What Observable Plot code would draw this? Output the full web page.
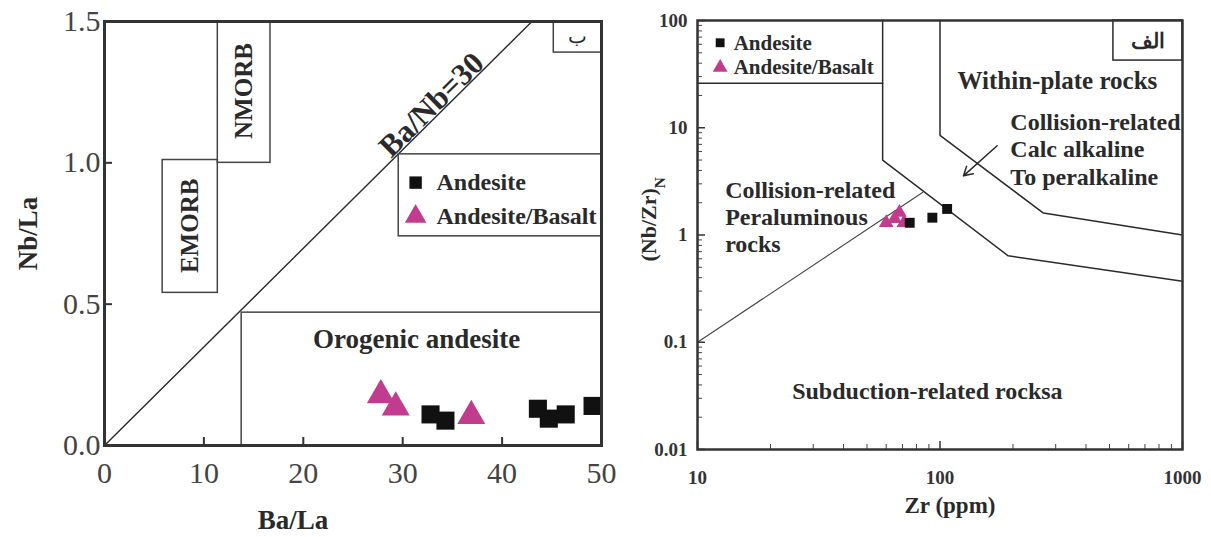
<!DOCTYPE html>
<html><head><meta charset="utf-8">
<script src="https://cdn.jsdelivr.net/npm/d3@7"></script>
<script src="https://cdn.jsdelivr.net/npm/@observablehq/plot@0.6"></script>
<style>
body{margin:0;background:#fff;}
#wrap{position:relative;width:1211px;height:537px;overflow:hidden;}
#left{position:absolute;left:0;top:0;}
#right{position:absolute;left:620px;top:0;}
</style></head><body><div id="wrap"><div id="left"></div><div id="right"></div></div>
<script>
// ---------- Left panel data (Ba/La vs Nb/La) ----------
const leftXTicks = [0, 10, 20, 30, 40, 50];
const leftYTicks = [0, 0.5, 1.0, 1.5];
const andesiteBaLa = [32.8, 34.3, 43.6, 44.7, 46.4, 49.1];
const andesiteNbLa = [0.11, 0.088, 0.13, 0.095, 0.11, 0.14];
const basaltBaLa = [27.8, 29.3, 36.9];
const basaltNbLa = [0.178, 0.135, 0.105];
const baNbLineX = [0, 43];
const baNbLineY = [0, 1.5];

// ---------- Right panel data (Zr vs (Nb/Zr)N) ----------
const rightXTicks = [10, 100, 1000];
const rightXMinor = [20, 30, 40, 50, 60, 70, 80, 90, 200, 300, 400, 500, 600, 700, 800, 900];
const rightYTicks = [0.01, 0.1, 1, 10, 100];
const rightYMinor = [0.02, 0.03, 0.04, 0.05, 0.06, 0.07, 0.08, 0.09, 0.2, 0.3, 0.4, 0.5, 0.6, 0.7, 0.8, 0.9, 2, 3, 4, 5, 6, 7, 8, 9, 20, 30, 40, 50, 60, 70, 80, 90];
const andesiteZr = [75, 93, 107];
const andesiteNbZr = [1.3, 1.45, 1.75];
const basaltZr = [60, 65, 68, 71];
const basaltNbZr = [1.3, 1.42, 1.62, 1.3];
const withinPlateZr = [100, 100, 267, 1000];
const withinPlateNbZr = [100, 8.5, 1.6, 1.0];
const collisionZr = [58, 58, 191, 1000];
const collisionNbZr = [100, 5, 0.64, 0.37];
const peralZr = [10, 85];
const peralNbZr = [0.1, 2.5];
const legendLineZr = [10, 58];
const legendLineNbZr = [26, 26];

const serif = "Liberation Serif, Times New Roman, serif";
const ink = "#2a2a2a";
const magenta = "#c23c8e";

const pts = (xs, ys) => xs.map((x, i) => ({x, y: ys[i]}));

// ---------------- LEFT ----------------
const left = Plot.plot({
  width: 620, height: 537,
  marginLeft: 104, marginRight: 19, marginTop: 21, marginBottom: 92,
  x: {domain: [0, 50]},
  y: {domain: [0, 1.5]},
  style: {fontFamily: serif, background: "white", overflow: "visible"},
  marks: [
    Plot.line(pts(baNbLineX, baNbLineY), {x: "x", y: "y", stroke: ink, strokeWidth: 1.4}),
    Plot.rect([{x1: 11.4, x2: 16.7, y1: 1.0, y2: 1.5}], {x1: "x1", x2: "x2", y1: "y1", y2: "y2", fill: "none", stroke: "#444", strokeWidth: 1.5}),
    Plot.rect([{x1: 5.85, x2: 11.4, y1: 0.54, y2: 1.01}], {x1: "x1", x2: "x2", y1: "y1", y2: "y2", fill: "none", stroke: "#444", strokeWidth: 1.5}),
    Plot.rect([{x1: 13.8, x2: 50, y1: 0, y2: 0.47}], {x1: "x1", x2: "x2", y1: "y1", y2: "y2", fill: "none", stroke: "#444", strokeWidth: 1.5}),
    Plot.rect([{x1: 29.6, x2: 50, y1: 0.74, y2: 1.03}], {x1: "x1", x2: "x2", y1: "y1", y2: "y2", fill: "white", stroke: "#444", strokeWidth: 1.5}),
    Plot.rect([{x1: 45.2, x2: 50, y1: 1.39, y2: 1.5}], {x1: "x1", x2: "x2", y1: "y1", y2: "y2", fill: "none", stroke: "#444", strokeWidth: 1.5}),
    Plot.text(["NMORB"], {x: 14.0, y: 1.254, rotate: -90, fontSize: 25, fontWeight: "bold", fill: ink}),
    Plot.text(["EMORB"], {x: 8.6, y: 0.777, rotate: -90, fontSize: 25, fontWeight: "bold", fill: ink}),
    Plot.text(["Ba/Nb=30"], {x: 32.9, y: 1.205, rotate: -44.7, fontSize: 31, fontWeight: "bold", fill: ink}),
    Plot.text(["Orogenic andesite"], {x: 31.4, y: 0.375, fontSize: 27, fontWeight: "bold", fill: ink}),
    Plot.text(["ب"], {x: 47.6, y: 1.445, fontSize: 20, fill: ink}),
    // legend
    Plot.dot([{x: 31.3, y: 0.93}], {x: "x", y: "y", symbol: "square", r: 7, fill: "#111"}),
    Plot.dot([{x: 31.3, y: 0.81}], {x: "x", y: "y", symbol: "triangle", r: 8, fill: magenta}),
    Plot.text(["Andesite"], {x: 33.4, y: 0.93, textAnchor: "start", fontSize: 24, fontWeight: "bold", fill: ink}),
    Plot.text(["Andesite/Basalt"], {x: 33.4, y: 0.81, textAnchor: "start", fontSize: 24, fontWeight: "bold", fill: ink}),
    // data
    Plot.dot(pts(basaltBaLa, basaltNbLa), {x: "x", y: "y", symbol: "triangle", r: 10.4, fill: magenta}),
    Plot.dot(pts(andesiteBaLa, andesiteNbLa), {x: "x", y: "y", symbol: "square", r: 10.2, fill: "#111"}),
    // axes: inward ticks, then labels
    Plot.axisY(leftYTicks, {tickSize: 8, dx: 8, tickFormat: () => "", stroke: "#333", strokeWidth: 2, label: null}),
    Plot.axisX(leftXTicks, {tickSize: 8, dy: -8, tickFormat: () => "", stroke: "#333", strokeWidth: 2, label: null}),
    Plot.axisY(leftYTicks, {tickSize: 0, tickPadding: 4, tickFormat: d3.format(".1f"), fontSize: 30, fill: "#444", label: null}),
    Plot.axisX(leftXTicks, {tickSize: 0, tickPadding: 28, lineAnchor: "middle", fontSize: 30, fill: "#444", label: null}),
    Plot.frame({stroke: "#333", strokeWidth: 3}),
    Plot.text(["Nb/La"], {x: 0, y: 0.75, dx: -76, rotate: -90, fontSize: 27, fontWeight: "bold", fill: ink}),
    Plot.text(["Ba/La"], {x: 25, y: 0, dx: -60, dy: 75, fontSize: 27, fontWeight: "bold", fill: ink})
  ]
});
document.getElementById("left").appendChild(left);

// ---------------- RIGHT ----------------
const right = Plot.plot({
  width: 591, height: 537,
  marginLeft: 77, marginRight: 29, marginTop: 20, marginBottom: 88,
  x: {type: "log", domain: [10, 1000]},
  y: {type: "log", domain: [0.01, 100]},
  style: {fontFamily: serif, background: "white", overflow: "visible"},
  marks: [
    Plot.line(pts(withinPlateZr, withinPlateNbZr), {x: "x", y: "y", stroke: ink, strokeWidth: 1.5}),
    Plot.line(pts(collisionZr, collisionNbZr), {x: "x", y: "y", stroke: ink, strokeWidth: 1.5}),
    Plot.line(pts(peralZr, peralNbZr), {x: "x", y: "y", stroke: "#444", strokeWidth: 1.1}),
    Plot.line(pts(legendLineZr, legendLineNbZr), {x: "x", y: "y", stroke: ink, strokeWidth: 1.5}),
    Plot.rect([{x1: 519, x2: 1000, y1: 42.3, y2: 100}], {x1: "x1", x2: "x2", y1: "y1", y2: "y2", fill: "none", stroke: ink, strokeWidth: 1.5}),
    Plot.text(["الف"], {x: 724, y: 64, fontSize: 21, fontWeight: "bold", fill: ink}),
    Plot.text(["Within-plate rocks"], {x: 305, y: 27.5, fontSize: 25, fontWeight: "bold", fill: ink}),
    Plot.text(["Collision-related\nCalc alkaline\nTo peralkaline"], {x: 195, y: 6.4, textAnchor: "start", lineHeight: 1.15, fontSize: 24, fontWeight: "bold", fill: ink}),
    Plot.text(["Collision-related\nPeraluminous\nrocks"], {x: 13.0, y: 1.5, textAnchor: "start", lineHeight: 1.12, fontSize: 24, fontWeight: "bold", fill: ink}),
    Plot.text(["Subduction-related rocksa"], {x: 88.7, y: 0.035, fontSize: 24, fontWeight: "bold", fill: ink}),
    Plot.arrow([{x1: 172, y1: 6.8, x2: 125, y2: 3.56}], {x1: "x1", y1: "y1", x2: "x2", y2: "y2", stroke: ink, strokeWidth: 1.5, headLength: 10}),
    // legend
    Plot.dot([{x: 12.4, y: 62}], {x: "x", y: "y", symbol: "square", r: 5, fill: "#111"}),
    Plot.dot([{x: 12.4, y: 36.4}], {x: "x", y: "y", symbol: "triangle", r: 5.5, fill: magenta}),
    Plot.text(["Andesite"], {x: 14.1, y: 62, textAnchor: "start", fontSize: 21, fontWeight: "bold", fill: ink}),
    Plot.text(["Andesite/Basalt"], {x: 14.1, y: 36.4, textAnchor: "start", fontSize: 21, fontWeight: "bold", fill: ink}),
    // data
    Plot.dot(pts(basaltZr, basaltNbZr), {x: "x", y: "y", symbol: "triangle", r: 5.5, fill: magenta}),
    Plot.dot(pts(andesiteZr, andesiteNbZr), {x: "x", y: "y", symbol: "square", r: 5.6, fill: "#111"}),
    // axes: inward minor + major ticks, then labels
    Plot.axisY(rightYMinor, {tickSize: 5, dx: 5, tickFormat: () => "", stroke: "#444", label: null}),
    Plot.axisX(rightXMinor, {tickSize: 5, dy: -5, tickFormat: () => "", stroke: "#444", label: null}),
    Plot.axisY(rightYTicks, {tickSize: 8, dx: 8, tickFormat: () => "", stroke: "#333", strokeWidth: 1.5, label: null}),
    Plot.axisX(rightXTicks, {tickSize: 8, dy: -8, tickFormat: () => "", stroke: "#333", strokeWidth: 1.5, label: null}),
    Plot.axisY(rightYTicks, {tickSize: 0, tickPadding: 10, tickFormat: d => String(d), fontSize: 19, fontWeight: "bold", fill: "#333", label: null}),
    Plot.axisX(rightXTicks, {tickSize: 0, tickPadding: 28, lineAnchor: "middle", tickFormat: d => String(d), fontSize: 19, fontWeight: "bold", fill: "#333", label: null}),
    Plot.frame({stroke: "#333", strokeWidth: 2.5}),
    Plot.text(["(Nb/Zr)N"], {x: 10, y: 1.4, dx: -49, rotate: -90, fontSize: 22, fontWeight: "bold", fill: ink}),
    Plot.text(["Zr (ppm)"], {x: 100, y: 0.01, dx: 10, dy: 56, fontSize: 23, fontWeight: "bold", fill: ink})
  ]
});
document.getElementById("right").appendChild(right);

// subscript N in the y label
d3.select(right).selectAll("text").filter(function() { return this.textContent === "(Nb/Zr)N"; }).each(function() {
  const t = d3.select(this);
  t.text(null);
  t.append("tspan").text("(Nb/Zr)");
  t.append("tspan").attr("baseline-shift", "sub").attr("font-size", "0.7em").text("N");
});
</script>
</body></html>
